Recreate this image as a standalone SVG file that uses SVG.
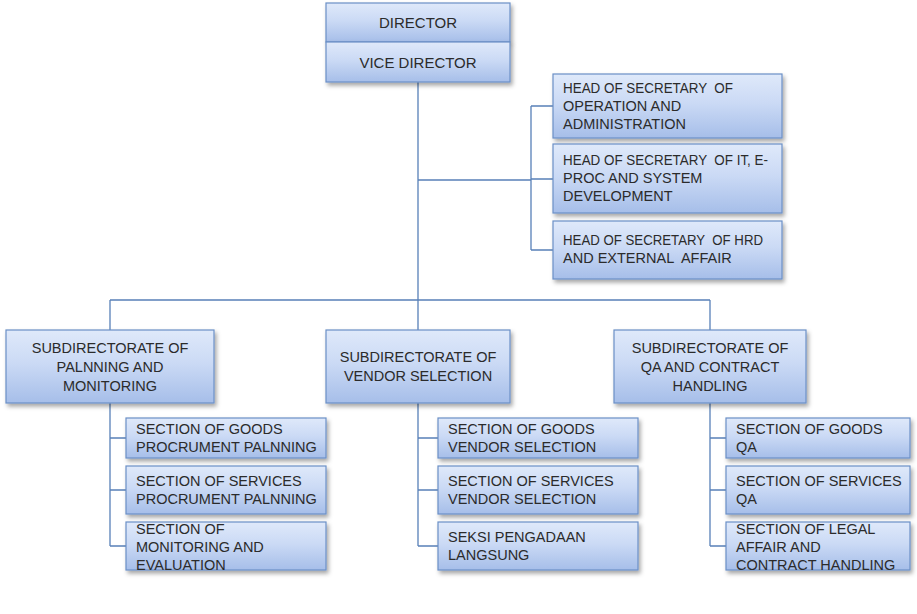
<svg xmlns="http://www.w3.org/2000/svg" width="917" height="614" viewBox="0 0 917 614">
<defs>
<linearGradient id="g" x1="0" y1="0" x2="0" y2="1">
<stop offset="0" stop-color="#dfe9fa"/>
<stop offset="0.45" stop-color="#cbdaf5"/>
<stop offset="1" stop-color="#a6bee9"/>
</linearGradient>
<filter id="sh" x="-10%" y="-10%" width="125%" height="135%">
<feDropShadow dx="2" dy="3" stdDeviation="2" flood-color="#000" flood-opacity="0.35"/>
</filter>
</defs>
<style>
.box{fill:url(#g);stroke:#6b8fc6;stroke-width:1.2;filter:url(#sh)}
.t{font-family:"Liberation Sans",Arial,sans-serif;font-size:14.5px;fill:#2b2b2b;white-space:pre}
.c{text-anchor:middle}
.ln{fill:none;stroke:#5880b8;stroke-width:1.3}
</style>
<rect width="917" height="614" fill="#fff"/>
<g id="connectors">
<path class="ln" d="M418 82V330M418 180H531M531 106V250M531 106H553M531 179H553M531 250H553M110 300H710M110 300V330M710 300V330"/>
<path class="ln" d="M110 403V546M110 438H126M110 490H126M110 546H126"/>
<path class="ln" d="M418 403V546M418 438H438M418 490H438M418 546H438"/>
<path class="ln" d="M710 403V546M710 438H726M710 490H726M710 546H726"/>
</g>
<g id="director"><rect class="box" x="326" y="3" width="184" height="39"/><text class="t c" x="418" y="28" style="font-size:15px">DIRECTOR</text></g>
<g id="vice-director"><rect class="box" x="326" y="42" width="184" height="40"/><text class="t c" x="418" y="68" style="font-size:15px">VICE DIRECTOR</text></g>
<g id="head-operation"><rect class="box" x="553" y="74" width="229" height="64"/><text class="t" x="563" y="93" textLength="170" lengthAdjust="spacingAndGlyphs">HEAD OF SECRETARY  OF</text><text class="t" x="563" y="111">OPERATION AND</text><text class="t" x="563" y="129">ADMINISTRATION</text></g>
<g id="head-it"><rect class="box" x="553" y="144" width="229" height="69"/><text class="t" x="563" y="165" textLength="205" lengthAdjust="spacingAndGlyphs">HEAD OF SECRETARY  OF IT, E-</text><text class="t" x="563" y="183">PROC AND SYSTEM</text><text class="t" x="563" y="201">DEVELOPMENT</text></g>
<g id="head-hrd"><rect class="box" x="553" y="221" width="229" height="58"/><text class="t" x="563" y="245" textLength="200" lengthAdjust="spacingAndGlyphs">HEAD OF SECRETARY  OF HRD</text><text class="t" x="563" y="263">AND EXTERNAL  AFFAIR</text></g>
<g id="sub-planning"><rect class="box" x="6" y="330" width="208" height="73"/><text class="t c" x="110" y="353">SUBDIRECTORATE OF</text><text class="t c" x="110" y="372">PALNNING AND</text><text class="t c" x="110" y="391">MONITORING</text></g>
<g id="sub-vendor"><rect class="box" x="326" y="330" width="184" height="73"/><text class="t c" x="418" y="362">SUBDIRECTORATE OF</text><text class="t c" x="418" y="381">VENDOR SELECTION</text></g>
<g id="sub-qa"><rect class="box" x="614" y="330" width="192" height="73"/><text class="t c" x="710" y="353">SUBDIRECTORATE OF</text><text class="t c" x="710" y="372">QA AND CONTRACT</text><text class="t c" x="710" y="391">HANDLING</text></g>
<g id="sec-goods-planning"><rect class="box" x="126" y="418" width="200" height="40"/><text class="t" x="136" y="434">SECTION OF GOODS</text><text class="t" x="136" y="452">PROCRUMENT PALNNING</text></g>
<g id="sec-services-planning"><rect class="box" x="126" y="466" width="200" height="48"/><text class="t" x="136" y="486">SECTION OF SERVICES</text><text class="t" x="136" y="504">PROCRUMENT PALNNING</text></g>
<g id="sec-monitoring"><rect class="box" x="126" y="522" width="200" height="48"/><text class="t" x="136" y="534">SECTION OF</text><text class="t" x="136" y="552">MONITORING AND</text><text class="t" x="136" y="570">EVALUATION</text></g>
<g id="sec-goods-vendor"><rect class="box" x="438" y="418" width="200" height="40"/><text class="t" x="448" y="434">SECTION OF GOODS</text><text class="t" x="448" y="452">VENDOR SELECTION</text></g>
<g id="sec-services-vendor"><rect class="box" x="438" y="466" width="200" height="48"/><text class="t" x="448" y="486">SECTION OF SERVICES</text><text class="t" x="448" y="504">VENDOR SELECTION</text></g>
<g id="sec-langsung"><rect class="box" x="438" y="522" width="200" height="48"/><text class="t" x="448" y="542">SEKSI PENGADAAN</text><text class="t" x="448" y="560">LANGSUNG</text></g>
<g id="sec-goods-qa"><rect class="box" x="726" y="418" width="184" height="40"/><text class="t" x="736" y="434">SECTION OF GOODS</text><text class="t" x="736" y="452">QA</text></g>
<g id="sec-services-qa"><rect class="box" x="726" y="466" width="184" height="48"/><text class="t" x="736" y="486">SECTION OF SERVICES</text><text class="t" x="736" y="504">QA</text></g>
<g id="sec-legal"><rect class="box" x="726" y="522" width="184" height="48"/><text class="t" x="736" y="534">SECTION OF LEGAL</text><text class="t" x="736" y="552">AFFAIR AND</text><text class="t" x="736" y="570">CONTRACT HANDLING</text></g>
</svg>
